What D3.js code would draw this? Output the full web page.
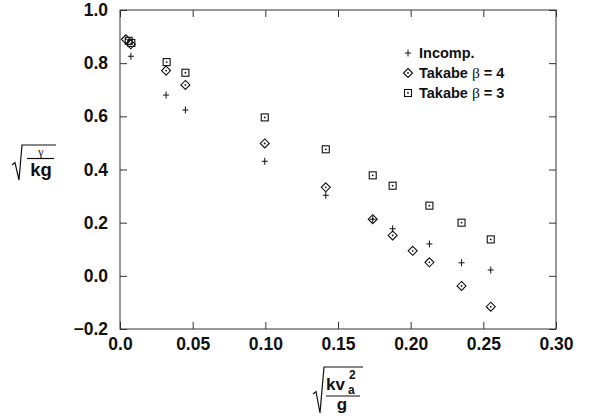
<!DOCTYPE html>
<html><head><meta charset="utf-8">
<script src="https://cdn.jsdelivr.net/npm/d3@7"></script>
<style>
html,body{margin:0;padding:0;background:#fff;}
svg{display:block;font-family:"Liberation Sans",Arial,Helvetica,sans-serif;}
</style></head>
<body>
<script>
// ---- data ----
const xTicks = [0, 0.05, 0.10, 0.15, 0.20, 0.25, 0.30];
const xTickLabels = ["0.0", "0.05", "0.10", "0.15", "0.20", "0.25", "0.30"];
const yTicks = [-0.2, 0, 0.2, 0.4, 0.6, 0.8, 1.0];
const yTickLabels = ["\u22120.2", "0.0", "0.2", "0.4", "0.6", "0.8", "1.0"];

const incompX = [0.0075, 0.0317, 0.045, 0.0996, 0.1416, 0.1739, 0.1876, 0.2129, 0.235, 0.2551];
const incompY = [0.826, 0.680, 0.624, 0.431, 0.303, 0.213, 0.177, 0.120, 0.049, 0.022];
const beta4X = [0.004, 0.0074, 0.0317, 0.045, 0.0996, 0.1416, 0.1739, 0.1876, 0.2014, 0.2129, 0.235, 0.2551];
const beta4Y = [0.890, 0.871, 0.772, 0.718, 0.498, 0.333, 0.213, 0.152, 0.094, 0.051, -0.038, -0.116];
const beta3X = [0.006, 0.0078, 0.0321, 0.045, 0.0996, 0.1416, 0.1739, 0.1876, 0.2129, 0.235, 0.2551];
const beta3Y = [0.884, 0.876, 0.804, 0.764, 0.596, 0.476, 0.378, 0.339, 0.264, 0.200, 0.137];

const seriesNames = ["Incomp.", "Takabe \u03B2 = 4", "Takabe \u03B2 = 3"];
const seriesShapes = ["plus", "diamond", "square"];

// ---- layout ----
const W = 589, H = 416;
const L = 120, R = 556, T = 10, B = 329;
const svg = d3.select("body").append("svg").attr("width", W).attr("height", H);
svg.append("rect").attr("width", W).attr("height", H).attr("fill", "#fff");

const x = d3.scaleLinear().domain([0, 0.30]).range([L, R]);
const y = d3.scaleLinear().domain([-0.2, 1.0]).range([B, T]);

const ink = "#111";
const tickLen = 7;

function styleAxis(g) {
  g.select(".domain").remove();
  g.selectAll(".tick line").attr("stroke", "#333").attr("stroke-width", 1);
  g.selectAll("text").attr("fill", ink).attr("font-size", 17.5).attr("font-weight", "bold")
    .attr("font-family", "'Liberation Sans', Arial, Helvetica, sans-serif");
}

svg.append("g").attr("transform", `translate(0,${B})`)
  .call(d3.axisBottom(x).tickValues(xTicks).tickSizeInner(-tickLen).tickSizeOuter(0).tickPadding(9)
    .tickFormat((d, i) => xTickLabels[i]))
  .call(styleAxis);
svg.append("g").attr("transform", `translate(0,${T})`)
  .call(d3.axisTop(x).tickValues(xTicks).tickSizeInner(-tickLen).tickSizeOuter(0).tickFormat(""))
  .call(styleAxis);
svg.append("g").attr("transform", `translate(${L},0)`)
  .call(d3.axisLeft(y).tickValues(yTicks).tickSizeInner(-tickLen).tickSizeOuter(0).tickPadding(12)
    .tickFormat((d, i) => yTickLabels[i]))
  .call(styleAxis);
svg.append("g").attr("transform", `translate(${R},0)`)
  .call(d3.axisRight(y).tickValues(yTicks).tickSizeInner(-tickLen).tickSizeOuter(0).tickFormat(""))
  .call(styleAxis);

// frame
svg.append("rect").attr("x", L).attr("y", T).attr("width", R - L).attr("height", B - T)
  .attr("fill", "none").attr("stroke", "#333").attr("stroke-width", 1);

// ---- markers ----
function drawMarker(g, shape, cx, cy) {
  if (shape === "plus") {
    g.append("path").attr("d", `M${cx-3},${cy}H${cx+3}M${cx},${cy-3.5}V${cy+3.5}`)
      .attr("stroke", ink).attr("stroke-width", 1).attr("fill", "none");
  } else if (shape === "diamond") {
    const r = 4.5;
    g.append("path").attr("d", `M${cx},${cy-r}L${cx+r},${cy}L${cx},${cy+r}L${cx-r},${cy}Z`)
      .attr("stroke", ink).attr("stroke-width", 1.1).attr("fill", "none");
    g.append("circle").attr("cx", cx).attr("cy", cy).attr("r", 0.9).attr("fill", ink);
  } else {
    const h = 3.5;
    g.append("rect").attr("x", cx - h).attr("y", cy - h).attr("width", 2 * h).attr("height", 2 * h)
      .attr("stroke", ink).attr("stroke-width", 1.1).attr("fill", "none");
    g.append("circle").attr("cx", cx).attr("cy", cy).attr("r", 0.9).attr("fill", ink);
  }
}

const series = [[incompX, incompY], [beta4X, beta4Y], [beta3X, beta3Y]];
const pts = svg.append("g");
series.forEach(([xs, ys], si) => {
  xs.forEach((xv, i) => drawMarker(pts, seriesShapes[si], x(xv), y(ys[i])));
});

// ---- legend ----
const leg = svg.append("g");
const legX = 408, legY0 = 53, legDY = 20;
seriesNames.forEach((name, i) => {
  const cy = legY0 + i * legDY;
  drawMarker(leg, seriesShapes[i], legX, cy);
  const t = leg.append("text").attr("x", legX + 11).attr("y", cy + 5)
    .attr("font-size", 14.5).attr("font-weight", "bold").attr("fill", ink);
  if (i === 0) {
    t.text(name);
  } else {
    const parts = name.split("\u03B2");
    t.append("tspan").text(parts[0]);
    t.append("tspan").attr("font-weight", "normal").attr("font-family", "'Liberation Serif', 'DejaVu Serif', serif")
      .attr("font-size", 15.5).text("\u03B2");
    t.append("tspan").text(parts[1]);
  }
});

// ---- y-axis label: sqrt(gamma / kg) ----
const yl = svg.append("g");
yl.append("path").attr("d", "M12,165 L15,162.5 L19,180 L22,145 L56,145")
  .attr("stroke", ink).attr("stroke-width", 1.2).attr("fill", "none");
yl.append("line").attr("x1", 27).attr("x2", 54).attr("y1", 158.5).attr("y2", 158.5)
  .attr("stroke", ink).attr("stroke-width", 1.2);
yl.append("text").attr("x", 41).attr("y", 155.5).attr("text-anchor", "middle")
  .attr("font-family", "'Liberation Serif', 'DejaVu Serif', serif").attr("font-size", 12).attr("fill", ink)
  .text("\u03B3");
yl.append("text").attr("x", 41).attr("y", 175.5).attr("text-anchor", "middle")
  .attr("font-size", 18.5).attr("font-weight", "bold").attr("fill", ink).text("kg");

// ---- x-axis label: sqrt(k v_a^2 / g) ----
const xl = svg.append("g");
xl.append("path").attr("d", "M313,394 L316,391.5 L320,413 L324,367 L363,367")
  .attr("stroke", ink).attr("stroke-width", 1.2).attr("fill", "none");
xl.append("line").attr("x1", 326).attr("x2", 360).attr("y1", 396).attr("y2", 396)
  .attr("stroke", ink).attr("stroke-width", 1.2);
xl.append("text").attr("x", 326).attr("y", 390)
  .attr("font-size", 17).attr("font-weight", "bold").attr("fill", ink).text("kv");
xl.append("text").attr("x", 348).attr("y", 393.5)
  .attr("font-size", 12).attr("font-weight", "bold").attr("fill", ink).text("a");
xl.append("text").attr("x", 349).attr("y", 379)
  .attr("font-size", 12).attr("font-weight", "bold").attr("fill", ink).text("2");
xl.append("text").attr("x", 342).attr("y", 410).attr("text-anchor", "middle")
  .attr("font-size", 17).attr("font-weight", "bold").attr("fill", ink).text("g");
</script>
</body></html>
